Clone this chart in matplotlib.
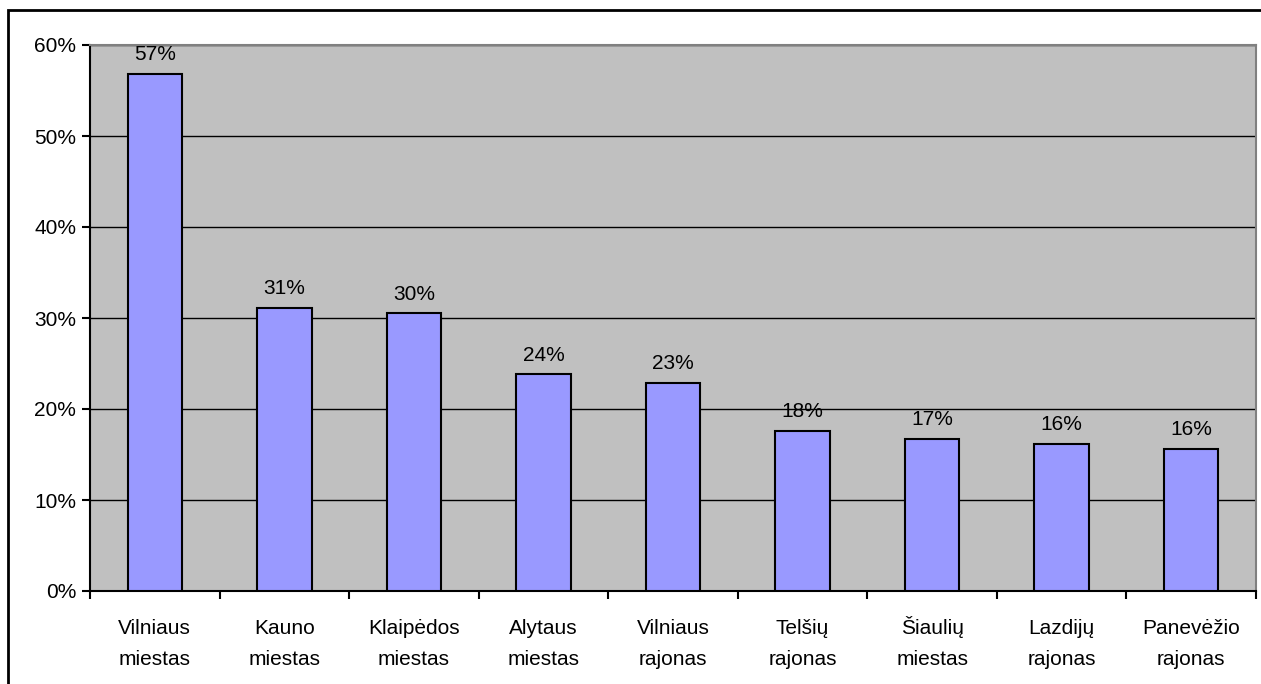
import matplotlib
matplotlib.use("Agg")
import matplotlib.pyplot as plt
import matplotlib.transforms as mtransforms
from matplotlib.patches import Rectangle
from matplotlib.ticker import FixedLocator, NullFormatter

categories = [
    "Vilniaus\nmiestas", "Kauno\nmiestas", "Klaipėdos\nmiestas",
    "Alytaus\nmiestas", "Vilniaus\nrajonas", "Telšių\nrajonas",
    "Šiaulių\nmiestas", "Lazdijų\nrajonas", "Panevėžio\nrajonas",
]
values = [56.8, 31.1, 30.5, 23.8, 22.9, 17.6, 16.7, 16.2, 15.6]
value_labels = ["57%", "31%", "30%", "24%", "23%", "18%", "17%", "16%", "16%"]
y_ticks = [0, 10, 20, 30, 40, 50, 60]

plt.rcParams["font.family"] = ["Liberation Sans", "DejaVu Sans"]
plt.rcParams["font.size"] = 15

fig = plt.figure(figsize=(12.61, 6.84), dpi=100)
ax = fig.add_axes([90 / 1261, 1 - 591 / 684, 1166 / 1261, 546 / 684])

# outer chart frame
fig.patches.append(Rectangle((8 / 1261, -0.05), 1.2, 1 - 10 / 684 + 0.05,
                             transform=fig.transFigure, fill=False,
                             edgecolor="black", linewidth=2))

ax.set_facecolor("#C0C0C0")
x = range(len(categories))
ax.bar(x, values, width=0.42, color="#9999FF", edgecolor="black",
       linewidth=1.5, zorder=3)

for i, (v, lab) in enumerate(zip(values, value_labels)):
    ax.annotate(lab, (i, v), xytext=(0, 7), textcoords="offset points",
                ha="center", va="bottom", zorder=4)

ax.set_xlim(-0.5, len(categories) - 0.5)
ax.set_ylim(0, 60)
ax.set_yticks(y_ticks)
ax.set_yticklabels([f"{t}%" for t in y_ticks])
ax.yaxis.grid(True, color="black", linewidth=1, zorder=1)
ax.set_axisbelow(True)

# category labels, aligned on the baseline of the bottom line
ax.set_xticks([])
label_trans = mtransforms.offset_copy(ax.get_xaxis_transform(), fig=fig,
                                      x=0, y=-53, units="points")
for i, cat in enumerate(categories):
    ax.text(i, 0, cat, transform=label_trans, ha="center", va="baseline",
            multialignment="center", linespacing=1.75)

ax.xaxis.set_minor_locator(FixedLocator([i - 0.5 for i in range(len(categories) + 1)]))
ax.xaxis.set_minor_formatter(NullFormatter())
ax.tick_params(axis="x", which="minor", length=6, width=1.5)
ax.tick_params(axis="y", length=6, width=1.5, pad=4)

for side in ["left", "bottom"]:
    ax.spines[side].set_color("black")
    ax.spines[side].set_linewidth(1.5)
for side in ["top", "right"]:
    ax.spines[side].set_color("#808080")
    ax.spines[side].set_linewidth(1.5)

fig.savefig("out.png", dpi=100)
